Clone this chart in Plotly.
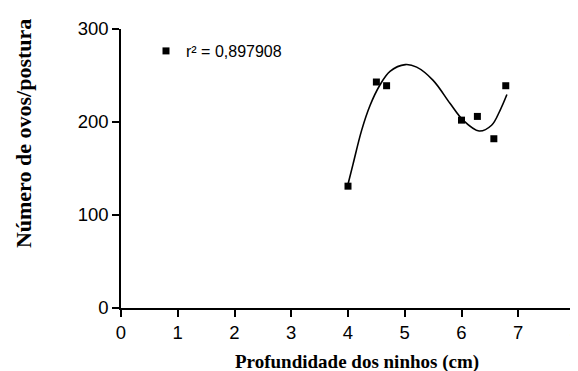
import plotly.graph_objects as go

# Observed data
profundidade = [4.0, 4.5, 4.68, 6.0, 6.28, 6.57, 6.78]
ovos = [131, 243, 239, 202, 206, 182, 239]

# Fitted curve
curva_x = [4.0, 4.09, 4.24, 4.39, 4.56, 4.74, 5.01, 5.21, 5.50, 5.80, 6.03, 6.31, 6.53, 6.68, 6.80]
curva_y = [133, 155, 191, 218, 239.5, 254.5, 261.7, 259, 244.8, 219.8, 201.8, 190.3, 196.5, 212.6, 229.5]

x_ticks = [0, 1, 2, 3, 4, 5, 6, 7, 8]
y_ticks = [0, 100, 200, 300]
r2_label = "r² = 0,897908"

# page body has an 8px margin; work in window coordinates and subtract it
OFF = 8
W, H = 578 - OFF, 371 - OFF
PL, PR, PT, PB = 121, 575, 29, 307.7   # plot area in window pixels
L, R, T, B = PL - OFF, W - (PR - OFF), PT - OFF, H - (PB - OFF)
PW, PH = W - L - R, H - T - B

def px_to_paper_x(px):
    return (px - OFF - L) / PW

def px_to_paper_y(py):
    return (H - B - (py - OFF)) / PH

fig = go.Figure()
fig.add_trace(go.Scatter(
    x=curva_x, y=curva_y, mode="lines", line=dict(color="black", width=1.6, shape="spline"),
    showlegend=False, hoverinfo="skip"))
fig.add_trace(go.Scatter(
    x=profundidade, y=ovos, mode="markers", name=r2_label,
    marker=dict(symbol="square", size=7, color="black"), showlegend=True))

axis_common = dict(
    showgrid=False, zeroline=False, showline=True, linecolor="black", linewidth=1.5,
    ticks="outside", ticklen=7, tickwidth=1.5, tickcolor="black",
    tickfont=dict(family="Liberation Sans, Arial", size=18.5, color="black"),
    ticklabeloverflow="allow", automargin=False,
)
fig.update_xaxes(range=[0, 8], tickvals=x_ticks, ticktext=[str(v) for v in x_ticks], **axis_common)
fig.update_yaxes(range=[0, 300], tickvals=y_ticks, ticktext=[str(v) for v in y_ticks], **axis_common)

fig.update_layout(
    width=W, height=H, autosize=False,
    margin=dict(l=L, r=R, t=T, b=B, pad=0, autoexpand=False),
    paper_bgcolor="white", plot_bgcolor="white",
    legend=dict(x=px_to_paper_x(146), y=px_to_paper_y(34), xanchor="left", yanchor="top",
                font=dict(family="Liberation Sans, Arial", size=16, color="black"),
                bgcolor="rgba(0,0,0,0)", itemwidth=30),
    annotations=[
        dict(text="<b>Profundidade dos ninhos (cm)</b>", xref="paper", yref="paper",
             x=px_to_paper_x(357), y=px_to_paper_y(362),
             xanchor="center", yanchor="middle", showarrow=False,
             font=dict(family="Liberation Serif, Times New Roman", size=19, color="black")),
        dict(text="<b>Número de ovos/postura</b>", xref="paper", yref="paper",
             x=px_to_paper_x(23), y=px_to_paper_y(134),
             xanchor="center", yanchor="middle", textangle=-90, showarrow=False,
             font=dict(family="Liberation Serif, Times New Roman", size=22, color="black")),
    ],
)

fig.write_html("out.html")
